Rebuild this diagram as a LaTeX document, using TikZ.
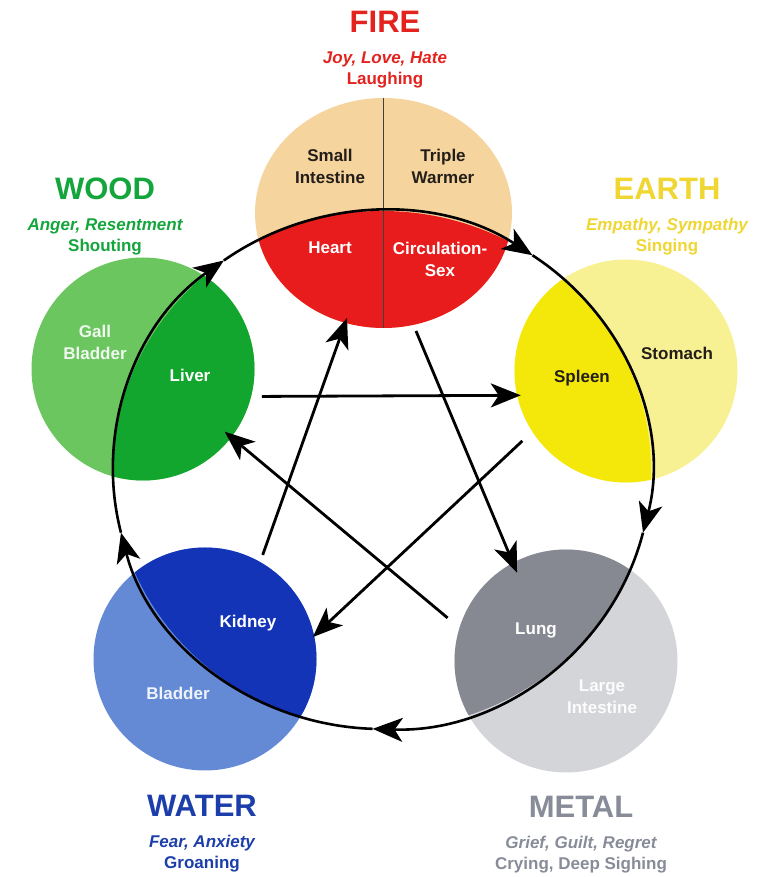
\documentclass[tikz,border=0pt]{standalone}
\usepackage{fontspec}
\setmainfont{Liberation Sans}
\usetikzlibrary{positioning,calc,arrows.meta,shapes.geometric}

\definecolor{firebeige}{RGB}{245,212,158}
\definecolor{firered}{RGB}{232,28,28}
\definecolor{woodlight}{RGB}{108,198,96}
\definecolor{wooddark}{RGB}{18,166,46}
\definecolor{earthlight}{RGB}{248,241,148}
\definecolor{earthdark}{RGB}{243,232,10}
\definecolor{metallight}{RGB}{212,213,216}
\definecolor{metaldark}{RGB}{134,137,146}
\definecolor{waterlight}{RGB}{100,138,214}
\definecolor{waterdark}{RGB}{20,52,184}
\definecolor{firetext}{RGB}{226,35,30}
\definecolor{woodtext}{RGB}{20,165,60}
\definecolor{earthtext}{RGB}{240,214,50}
\definecolor{watertext}{RGB}{28,62,170}
\definecolor{metaltext}{RGB}{135,140,152}
\definecolor{organdark}{RGB}{35,30,25}

\begin{document}
\begin{tikzpicture}[x=1pt, y=1pt,
        organ/.style={circle, inner sep=0pt, minimum size=223pt},
        ring/.style={draw, line width=2.6pt,
                     -{Stealth[length=30pt, width=24pt, inset=8pt]}},
        control/.style={draw, line width=2.8pt,
                     -{Stealth[length=30pt, width=24pt, inset=8pt]}},
        elemname/.style={inner sep=0pt, anchor=base,
                     font=\bfseries\fontsize{31}{34}\selectfont},
        emotion/.style={inner sep=0pt, align=center,
                     font=\bfseries\fontsize{17}{21}\selectfont},
        organname/.style={inner sep=0pt, align=center,
                     font=\bfseries\fontsize{17}{22}\selectfont}
    ]
    \useasboundingbox (0,0) rectangle (762,877);

    % Draw the five element circles
    \node[organ, fill=woodlight] (wood) at (143,508) {};
    \node[organ, fill=earthlight] (earth) at (626,506) {};
    \node[organ, fill=metallight] (metal) at (566,216) {};
    \node[organ, fill=waterlight] (water) at (205,218) {};
    \node[ellipse, inner sep=0pt, minimum width=257pt, minimum height=230pt,
          fill=firebeige] (fire) at (383.5,664) {};
    \coordinate (hub) at (382,407);

    % Inner halves of the circles
    \begin{scope}
        \clip (hub) ellipse[x radius=269, y radius=259];
        \fill[wooddark] (wood) circle[radius=111.5];
        \fill[earthdark] (earth) circle[radius=111.5];
        \fill[metaldark] (metal) circle[radius=111.5];
        \fill[waterdark] (water) circle[radius=111.5];
        \fill[firered] (fire) ellipse[x radius=128.5, y radius=115];
    \end{scope}
    \draw[line width=1.2pt, black!75] (fire.north) -- (fire.south);

    % Generating cycle
    \foreach \s/\e in {194/126, 126/56, 56/-14, -14/-92, -92/-166}
        \draw[ring] ($(hub)+(\s:269 and 259)$)
            arc[start angle=\s, end angle=\e, x radius=269, y radius=259];

    % Controlling star
    \draw[control] ($(wood)+(-13:122)$) -- ($(earth)+(193:108)$);
    \draw[control] ($(earth)+(214:125)$) -- ($(water)+(11.5:110)$);
    \draw[control] ($(water)+(61:119)$) -- ($(fire)+(-36.5,-105)$);
    \draw[control] ($(fire)+(32.5,-118)$) -- ($(metal)+(119:101)$);
    \draw[control] ($(metal)+(160:126)$) -- ($(wood)+(-37.5:103)$);

    % Element names and emotions
    \node[elemname, text=firetext] (firename) at (385,844) {FIRE};
    \node[emotion, text=firetext, below=18pt of firename] (firemood)
        {\itshape Joy, Love, Hate\\Laughing};
    \node[elemname, text=woodtext] (woodname) at (105,677) {WOOD};
    \node[emotion, text=woodtext, below=18pt of woodname] (woodmood)
        {\itshape Anger, Resentment\\Shouting};
    \node[elemname, text=earthtext] (earthname) at (667,677) {EARTH};
    \node[emotion, text=earthtext, below=18pt of earthname] (earthmood)
        {\itshape Empathy, Sympathy\\Singing};
    \node[elemname, text=watertext] (watername) at (202,60) {WATER};
    \node[emotion, text=watertext, below=18pt of watername] (watermood)
        {\itshape Fear, Anxiety\\Groaning};
    \node[elemname, text=metaltext] (metalname) at (581,59) {METAL};
    \node[emotion, text=metaltext, below=18pt of metalname] (metalmood)
        {\itshape Grief, Guilt, Regret\\Crying, Deep Sighing};

    % Organ names
    \node[organname, text=organdark] (smallint) at (330,711) {Small\\Intestine};
    \node[organname, text=organdark] (triple) at (443,711) {Triple\\Warmer};
    \node[organname, text=white] (heart) at (330,629) {Heart};
    \node[organname, text=white] (circsex) at (440,618) {Circulation-\\Sex};
    \node[organname, text=white!90!woodlight] (gall) at (95,535) {Gall\\Bladder};
    \node[organname, text=white] (liver) at (190,502) {Liver};
    \node[organname, text=organdark] (spleen) at (582,499) {Spleen};
    \node[organname, text=organdark] (stomach) at (677,524) {Stomach};
    \node[organname, text=white] (kidney) at (248,254) {Kidney};
    \node[organname, text=white!90!waterlight] (bladder) at (178,184) {Bladder};
    \node[organname, text=white] (lung) at (536,247) {Lung};
    \node[organname, text=white!92!metallight] (largeint) at (602,180) {Large\\Intestine};

\end{tikzpicture}
\end{document}
